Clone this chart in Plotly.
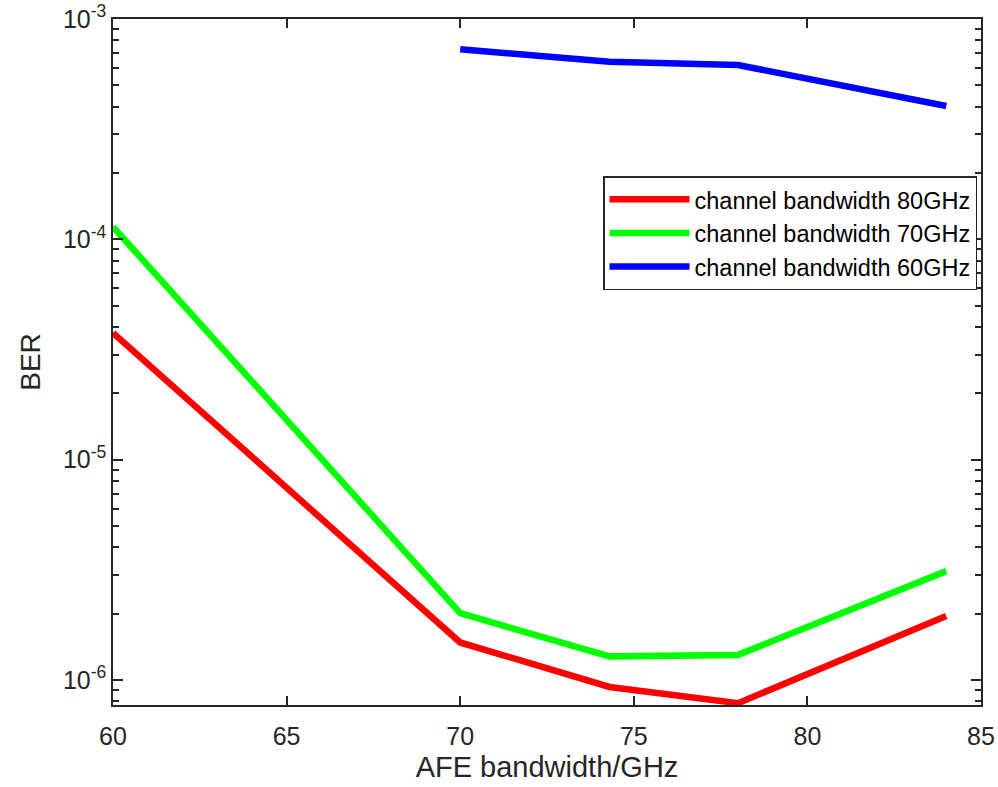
import plotly.graph_objects as go

afe_bw = [60, 70, 74.3, 78, 84]
afe_bw_60 = [70, 74.3, 78, 84]
ber_80 = [3.76e-5, 1.48e-6, 9.3e-7, 7.85e-7, 1.95e-6]
ber_70 = [1.14e-4, 2.01e-6, 1.28e-6, 1.30e-6, 3.12e-6]
ber_60 = [7.29e-4, 6.40e-4, 6.18e-4, 4.03e-4]

names = ["channel bandwidth 80GHz", "channel bandwidth 70GHz", "channel bandwidth 60GHz"]
colors = ["#FF0000", "#00FF00", "#0000FF"]

x_ticks = [60, 65, 70, 75, 80, 85]
y_major = [1e-6, 1e-5, 1e-4, 1e-3]
y_major_text = ["10<sup>-6</sup>", "10<sup>-5</sup>", "10<sup>-4</sup>", "10<sup>-3</sup>"]
y_minor = [m * 10.0 ** e for e in (-7, -6, -5, -4) for m in range(2, 10)]

FONT = "Liberation Sans, Arial, sans-serif"
AX = "#262626"

fig = go.Figure()
for xs, ys, n, c in [(afe_bw, ber_80, names[0], colors[0]),
                     (afe_bw, ber_70, names[1], colors[1]),
                     (afe_bw_60, ber_60, names[2], colors[2])]:
    fig.add_trace(go.Scatter(x=xs, y=ys, mode="lines", name=n,
                             line=dict(color=c, width=6.5)))

fig.update_layout(
    width=998, height=787,
    margin=dict(l=113, r=17, t=19, b=82, autoexpand=False),
    paper_bgcolor="white", plot_bgcolor="white",
    font=dict(family=FONT, color=AX),
    showlegend=True,
    legend=dict(x=0.9954, xanchor="right", y=0.771, yanchor="top",
                bgcolor="white", bordercolor=AX, borderwidth=1.5,
                font=dict(size=23.5, color="black", family=FONT),
                itemwidth=80, tracegroupgap=0),
)
fig.update_xaxes(range=[60, 85], tickvals=x_ticks, ticks="inside", ticklen=9,
                 tickwidth=1.5, tickcolor=AX, showline=True, linecolor=AX,
                 linewidth=1.5, mirror="ticks", showgrid=False, zeroline=False,
                 automargin=False,
                 tickfont=dict(size=25, color=AX), ticklabelstandoff=8,
                 title=dict(text="AFE bandwidth/GHz", font=dict(size=29, color=AX),
                            standoff=8))
fig.update_yaxes(type="log", range=[-6.1135, -3], tickvals=y_major,
                 ticktext=y_major_text, ticks="inside", ticklen=10, tickwidth=1.5,
                 tickcolor=AX, showline=True, linecolor=AX, linewidth=1.5,
                 mirror="ticks", showgrid=False, zeroline=False,
                 automargin=False,
                 tickfont=dict(size=25, color=AX),
                 minor=dict(tickvals=y_minor, ticks="inside", ticklen=6,
                            tickwidth=1.5, tickcolor=AX, showgrid=False),
                 title=dict(text="BER", font=dict(size=28, color=AX), standoff=14))

fig.write_html("out.html")
